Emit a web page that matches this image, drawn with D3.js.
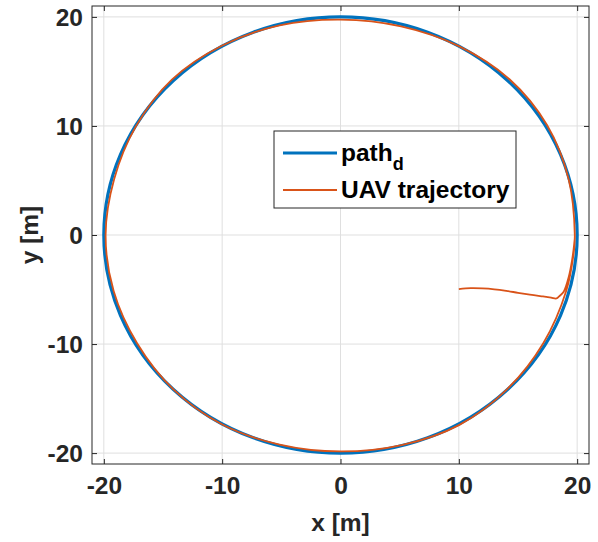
<!DOCTYPE html>
<html><head><meta charset="utf-8">
<script src="https://cdn.jsdelivr.net/npm/d3@7"></script>
<style>body{margin:0;background:#fff}svg{display:block}</style>
</head><body>
<script>
// ---- data ----
const xTicks = [-20, -10, 0, 10, 20];
const yTicks = [-20, -10, 0, 10, 20];
const pathCenter = [0, 0];
const pathRadius = 20;
const trajX = [10, 11, 12, 13, 14, 15, 16, 17, 17.8, 18.25, 18.5, 18.86, 19.29, 19.57, 19.75, 19.8,
  19.27, 17.45, 14.28, 10.00, 5.12, 0, -5.15, -10.03, -14.25, -17.28, -19.13, -19.85,
  -19.17, -17.19, -14.14, -10.03, -5.15, 0, 5.16, 10.05, 14.11, 17.15, 19.08, 19.70, 19.79];
const trajY = [-4.96, -4.88, -4.9, -4.98, -5.12, -5.3, -5.47, -5.62, -5.75, -5.82, -5.6, -5.2, -3.83, -2.3, -0.8, 0,
  5.16, 10.08, 14.28, 17.32, 19.13, 19.75, 19.22, 17.36, 14.25, 9.98, 5.12, 0,
  -5.14, -9.93, -14.14, -17.36, -19.22, -19.85, -19.27, -17.41, -14.11, -9.90, -5.11, -1.72, -0.5];
const legendLabels = ["path", "UAV trajectory"];
const colors = ["#0072BD", "#D95319"];

// ---- layout ----
const W = 598, H = 542;
const L = 92, R = 589, T = 6, B = 464;
const FONT = "'Liberation Sans', Arial, sans-serif";
const svg = d3.select("body").append("svg").attr("width", W).attr("height", H)
  .style("font-family", FONT);

const x = d3.scaleLinear().domain([-21, 21]).range([L, R]);
const y = d3.scaleLinear().domain([-21, 21]).range([B, T]);
const ink = "#262626";
const fmt = d => String(d); // plain hyphen-minus like the reference

// grid
const g = svg.append("g");
g.selectAll(".gx").data(xTicks).join("line")
  .attr("x1", d => x(d)).attr("x2", d => x(d)).attr("y1", T).attr("y2", B)
  .attr("stroke", "#dfdfdf").attr("stroke-width", 1);
g.selectAll(".gy").data(yTicks).join("line")
  .attr("y1", d => y(d)).attr("y2", d => y(d)).attr("x1", L).attr("x2", R)
  .attr("stroke", "#dfdfdf").attr("stroke-width", 1);

// desired path (circle)
svg.append("ellipse")
  .attr("cx", x(pathCenter[0])).attr("cy", y(pathCenter[1]))
  .attr("rx", x(pathRadius) - x(0)).attr("ry", y(0) - y(pathRadius))
  .attr("fill", "none").attr("stroke", colors[0]).attr("stroke-width", 3.2);

// trajectory
const traj = trajX.map((v, i) => [v, trajY[i]]);
svg.append("path").datum(traj)
  .attr("d", d3.line().x(d => x(d[0])).y(d => y(d[1])).curve(d3.curveCatmullRom))
  .attr("fill", "none").attr("stroke", colors[1]).attr("stroke-width", 1.8);

// axes
const fs = 24.5;
const axB = svg.append("g").attr("transform", `translate(0,${B})`)
  .call(d3.axisBottom(x).tickValues(xTicks).tickFormat(fmt).tickSizeInner(-5).tickSizeOuter(0).tickPadding(13));
const axT = svg.append("g").attr("transform", `translate(0,${T})`)
  .call(d3.axisTop(x).tickValues(xTicks).tickSizeInner(-5).tickSizeOuter(0).tickFormat(""));
const axL = svg.append("g").attr("transform", `translate(${L},0)`)
  .call(d3.axisLeft(y).tickValues(yTicks).tickFormat(fmt).tickSizeInner(-5).tickSizeOuter(0).tickPadding(9));
const axR = svg.append("g").attr("transform", `translate(${R},0)`)
  .call(d3.axisRight(y).tickValues(yTicks).tickSizeInner(-5).tickSizeOuter(0).tickFormat(""));
[axB, axT, axL, axR].forEach(a => {
  a.select(".domain").remove();
  a.selectAll("line").attr("stroke", ink).attr("stroke-width", 1);
  a.selectAll("text").attr("fill", ink).style("font-size", fs + "px").style("font-weight", "bold")
    .style("font-family", FONT);
});
axB.selectAll("text").attr("dy", "0.71em");
axL.selectAll("text").attr("dy", "0.36em");

svg.append("rect").attr("x", L).attr("y", T).attr("width", R - L).attr("height", B - T)
  .attr("fill", "none").attr("stroke", ink).attr("stroke-width", 1);

// axis labels
svg.append("text").attr("x", (L + R) / 2).attr("y", 531).attr("text-anchor", "middle")
  .attr("fill", ink).style("font-size", "24.5px").style("font-weight", "bold").text("x [m]");
svg.append("text").attr("transform", `translate(38,${(T + B) / 2}) rotate(-90)`).attr("text-anchor", "middle")
  .attr("fill", ink).style("font-size", "24.5px").style("font-weight", "bold").text("y [m]");

// legend
const lg = svg.append("g");
lg.append("rect").attr("x", 274).attr("y", 131).attr("width", 242).attr("height", 77)
  .attr("fill", "#fff").attr("stroke", ink).attr("stroke-width", 1);
const rows = [153, 190];
rows.forEach((ry, i) => {
  lg.append("line").attr("x1", 283).attr("x2", 337).attr("y1", ry).attr("y2", ry)
    .attr("stroke", colors[i]).attr("stroke-width", i === 0 ? 3.2 : 1.8);
});
const t1 = lg.append("text").attr("x", 341).attr("y", 161).attr("fill", "#000")
  .style("font-size", "24.5px").style("font-weight", "bold");
t1.append("tspan").text(legendLabels[0]);
t1.append("tspan").attr("dy", 9).style("font-size", "18px").text("d");
lg.append("text").attr("x", 341).attr("y", 198).attr("fill", "#000")
  .style("font-size", "24.5px").style("font-weight", "bold").text(legendLabels[1]);
</script>
</body></html>
